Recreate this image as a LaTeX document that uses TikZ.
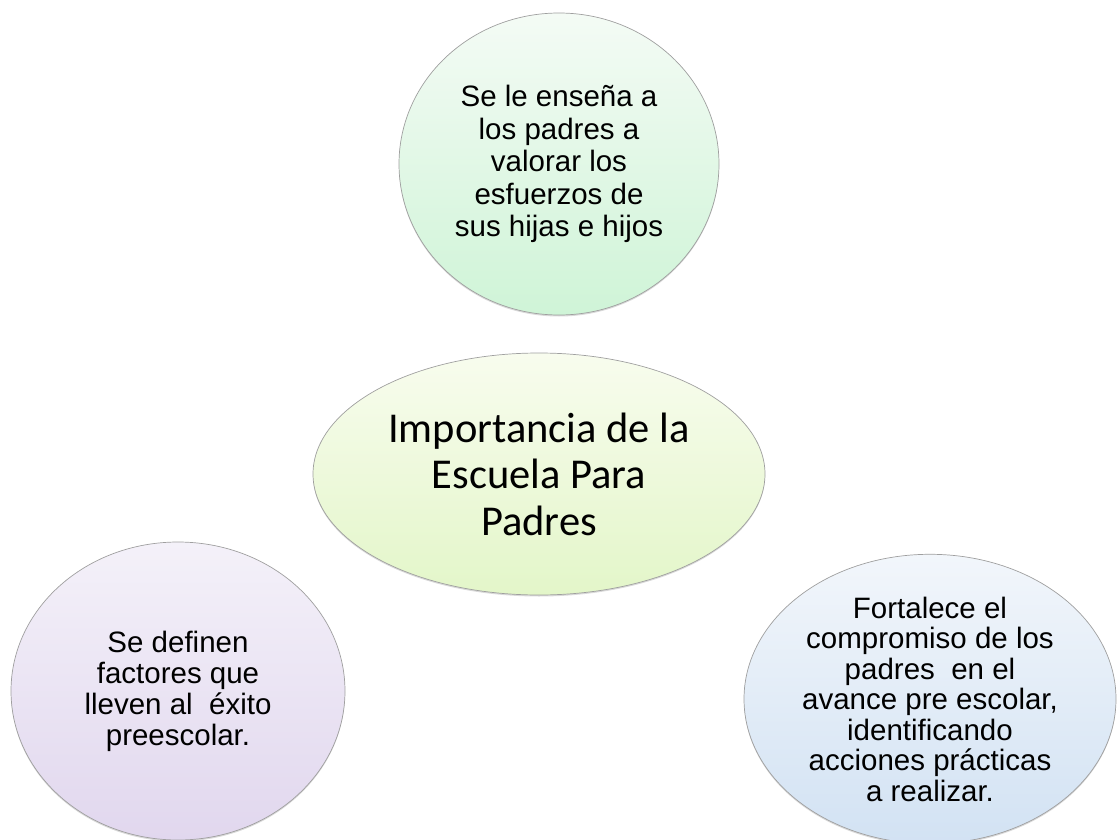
\documentclass[tikz,border=0pt]{standalone}
\usepackage{fontspec}
\setmainfont{Liberation Sans}
\newfontfamily\calibri{Carlito}
\usepackage{tikz}
\usetikzlibrary{shapes.geometric}
\usetikzlibrary{shadows}

\definecolor{greentop}{HTML}{F4FBF5}
\definecolor{greenbot}{HTML}{CFF4D7}
\definecolor{limetop}{HTML}{F8FCEE}
\definecolor{limebot}{HTML}{E3F6C9}
\definecolor{lilactop}{HTML}{F4F1F9}
\definecolor{lilacbot}{HTML}{E1D7EE}
\definecolor{bluetop}{HTML}{F2F6FB}
\definecolor{bluebot}{HTML}{D2E2F3}

\begin{document}
\begin{tikzpicture}[x=1pt, y=1pt,
    bubble/.style={ellipse, draw=gray!75, line width=0.7pt, inner sep=0pt, align=center,
        font=\fontsize{29.5}{31}\selectfont,
        drop shadow={shadow xshift=0pt, shadow yshift=-1.5pt, opacity=0.3}}]

\useasboundingbox (0,0) rectangle (1117,-840);

% Central idea
\node[bubble, minimum width=452pt, minimum height=242pt, top color=limetop, bottom color=limebot,
    font=\calibri\fontsize{42.5}{46.5}\selectfont] (centro) at (539,-474) {Importancia de la\\Escuela Para\\Padres};

% Surrounding ideas
\node[bubble, minimum width=320pt, minimum height=302pt, top color=greentop, bottom color=greenbot,
    font=\fontsize{29.5}{32.5}\selectfont] (valorar) at (559,-164) {Se le enseña a\\los padres a\\valorar los\\esfuerzos de\\sus hijas e hijos};
\node[bubble, minimum width=334pt, minimum height=298pt, top color=lilactop, bottom color=lilacbot] (factores) at (178,-691) {Se definen\\factores que\\lleven al~ éxito\\preescolar.};
\node[bubble, minimum width=372pt, minimum height=278pt, top color=bluetop, bottom color=bluebot,
    font=\fontsize{29.5}{30.5}\selectfont] (compromiso) at (930,-699) {Fortalece el\\compromiso de los\\padres~ en el\\avance pre escolar,\\identificando\\acciones prácticas\\a realizar.};

\end{tikzpicture}
\end{document}
